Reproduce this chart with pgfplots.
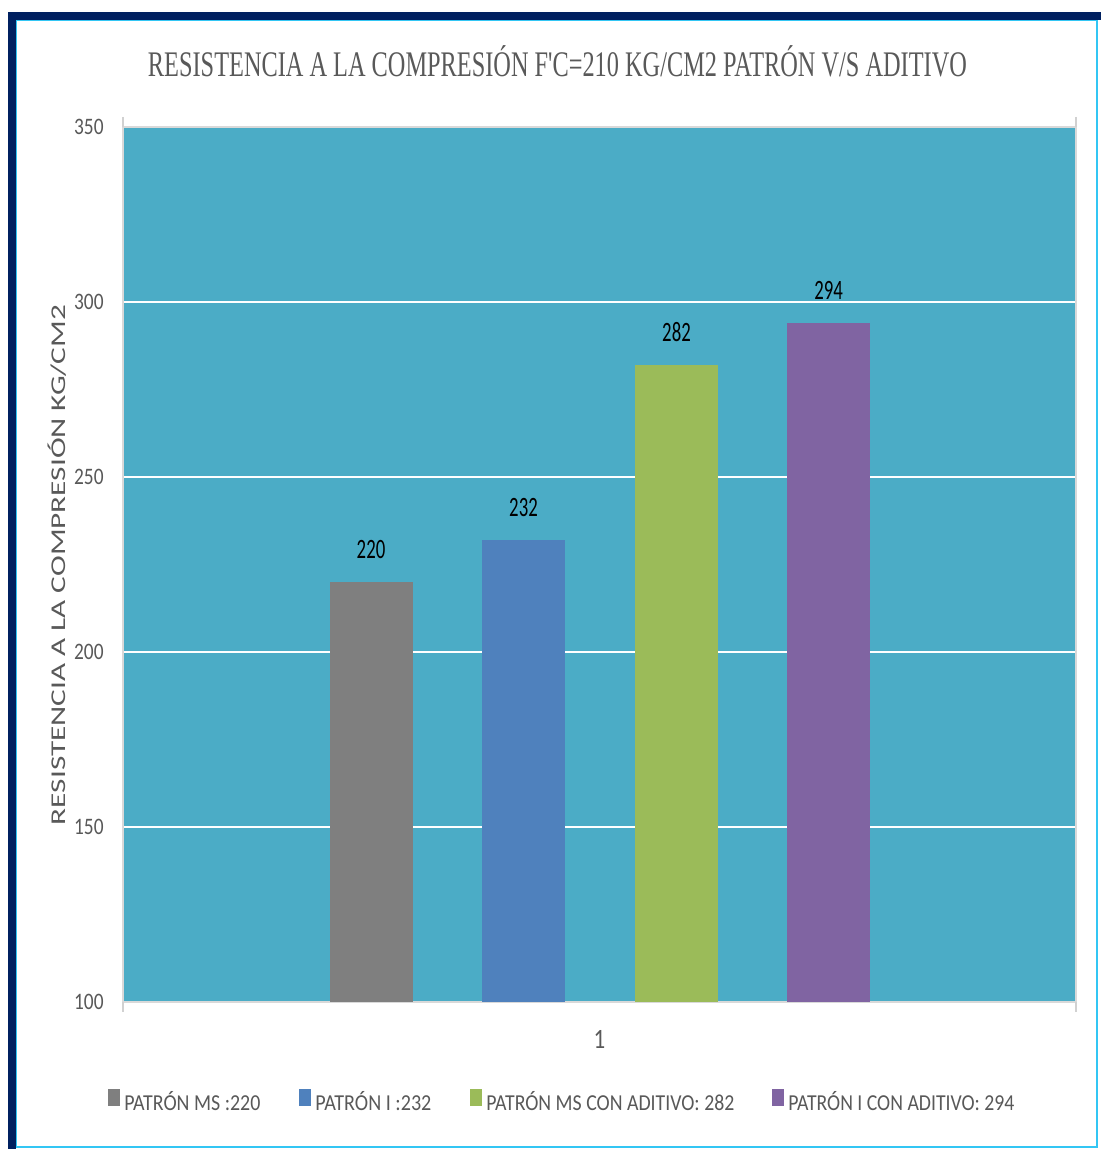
\documentclass[border=0pt]{standalone}
\usepackage{pgfplots}
\pgfplotsset{compat=1.18}
\usepackage{fontspec}
\setmainfont{Carlito}
\newfontfamily\tickfont[FakeStretch=0.82]{Carlito}
\newfontfamily\datafont[FakeStretch=0.67]{Carlito}
\newfontfamily\titlefont{Liberation Serif}
\definecolor{plotbg}{HTML}{4BACC6}
\definecolor{cgray}{HTML}{7F7F7F}
\definecolor{cblue}{HTML}{4F81BD}
\definecolor{cgreen}{HTML}{9BBB59}
\definecolor{cpurple}{HTML}{8064A2}
\definecolor{navy}{HTML}{002060}
\definecolor{cyanline}{HTML}{33C6F4}
\definecolor{labelgray}{HTML}{595959}
\begin{document}
\begin{tikzpicture}
\path[use as bounding box, fill=white] (0,0) rectangle (550.5pt,574.5pt);
% frame
\draw[cyanline, line width=0.7pt] (8.3pt,1pt) rectangle (548.5pt,564.2pt);
\fill[navy] (4pt,0pt) rectangle (8pt,568.5pt);
\fill[navy] (4pt,564.5pt) rectangle (550.5pt,568.5pt);
% title
\node[anchor=base, inner sep=0pt, text=labelgray] at (278.75pt,536pt)
  {\resizebox{409.5pt}{\height}{\titlefont\fontsize{18}{22}\selectfont RESISTENCIA A LA COMPRESIÓN F'C=210 KG/CM2 PATRÓN V/S ADITIVO}};
\begin{axis}[
  at={(61.5pt,73.5pt)}, anchor=south west,
  width=476.5pt, height=437.5pt, scale only axis,
  /pgf/number format/assume math mode=true,
  ybar, bar width=41.5pt,
  xmin=0.5, xmax=1.5, ymin=100, ymax=350,
  ytick={100,150,200,250,300,350},
  xtick={1}, xticklabels={1},
  extra x ticks={0.5,1.5}, extra x tick labels={},
  extra x tick style={tick align=outside, major tick length=5pt, tick style={draw=black!18, line width=0.6pt}, grid=none},
  major tick length=0pt,
  ymajorgrids, grid style={draw=white, line width=1.3pt},
  axis background/.style={fill=plotbg},
  axis line style={draw=black!15, line width=0.8pt},
  yticklabel style={font=\tickfont\fontsize{11.8}{13}\selectfont, text=labelgray, inner sep=0pt, xshift=-9.5pt},
  xticklabel style={font=\tickfont\fontsize{14}{16}\selectfont, text=labelgray, inner sep=0pt, yshift=-14pt},
  ylabel={\resizebox{260pt}{\height}{\fontsize{10.5}{12}\selectfont RESISTENCIA A LA COMPRESIÓN KG/CM2}},
  ylabel style={at={(axis description cs:-0.06925,0.4994)}, anchor=center, inner sep=0pt, text=labelgray},
  nodes near coords,
  every node near coord/.append style={font=\datafont\fontsize{14}{16}\selectfont, text=black, anchor=south, inner sep=0pt, yshift=11.5pt},
  legend columns=4,
  legend style={at={(axis description cs:-0.01574,-0.1137)}, anchor=west, draw=none, fill=none, inner sep=0pt, column sep=0pt, nodes={inner sep=0pt}, font=\fontsize{11.4}{13}\selectfont, text=labelgray},
  legend image code/.code={\fill[#1] (0pt,-1.5pt) rectangle (6pt,7pt); \fill[white, opacity=0] (6pt,-1.5pt) rectangle (8pt,7pt);},
]
\addplot[fill=cgray, draw=none, bar shift=-114.25pt] coordinates {(1,220)};
\addlegendentry{\makebox[87.5pt][l]{\resizebox{68pt}{\height}{PATRÓN MS :220}}}
\addplot[fill=cblue, draw=none, bar shift=-38pt] coordinates {(1,232)};
\addlegendentry{\makebox[77.5pt][l]{\resizebox{58pt}{\height}{PATRÓN I :232}}}
\addplot[fill=cgreen, draw=none, bar shift=38.5pt] coordinates {(1,282)};
\addlegendentry{\makebox[143pt][l]{\resizebox{124pt}{\height}{PATRÓN MS CON ADITIVO: 282}}}
\addplot[fill=cpurple, draw=none, bar shift=114.5pt] coordinates {(1,294)};
\addlegendentry{\resizebox{113pt}{\height}{PATRÓN I CON ADITIVO: 294}}
\end{axis}
\end{tikzpicture}
\end{document}
